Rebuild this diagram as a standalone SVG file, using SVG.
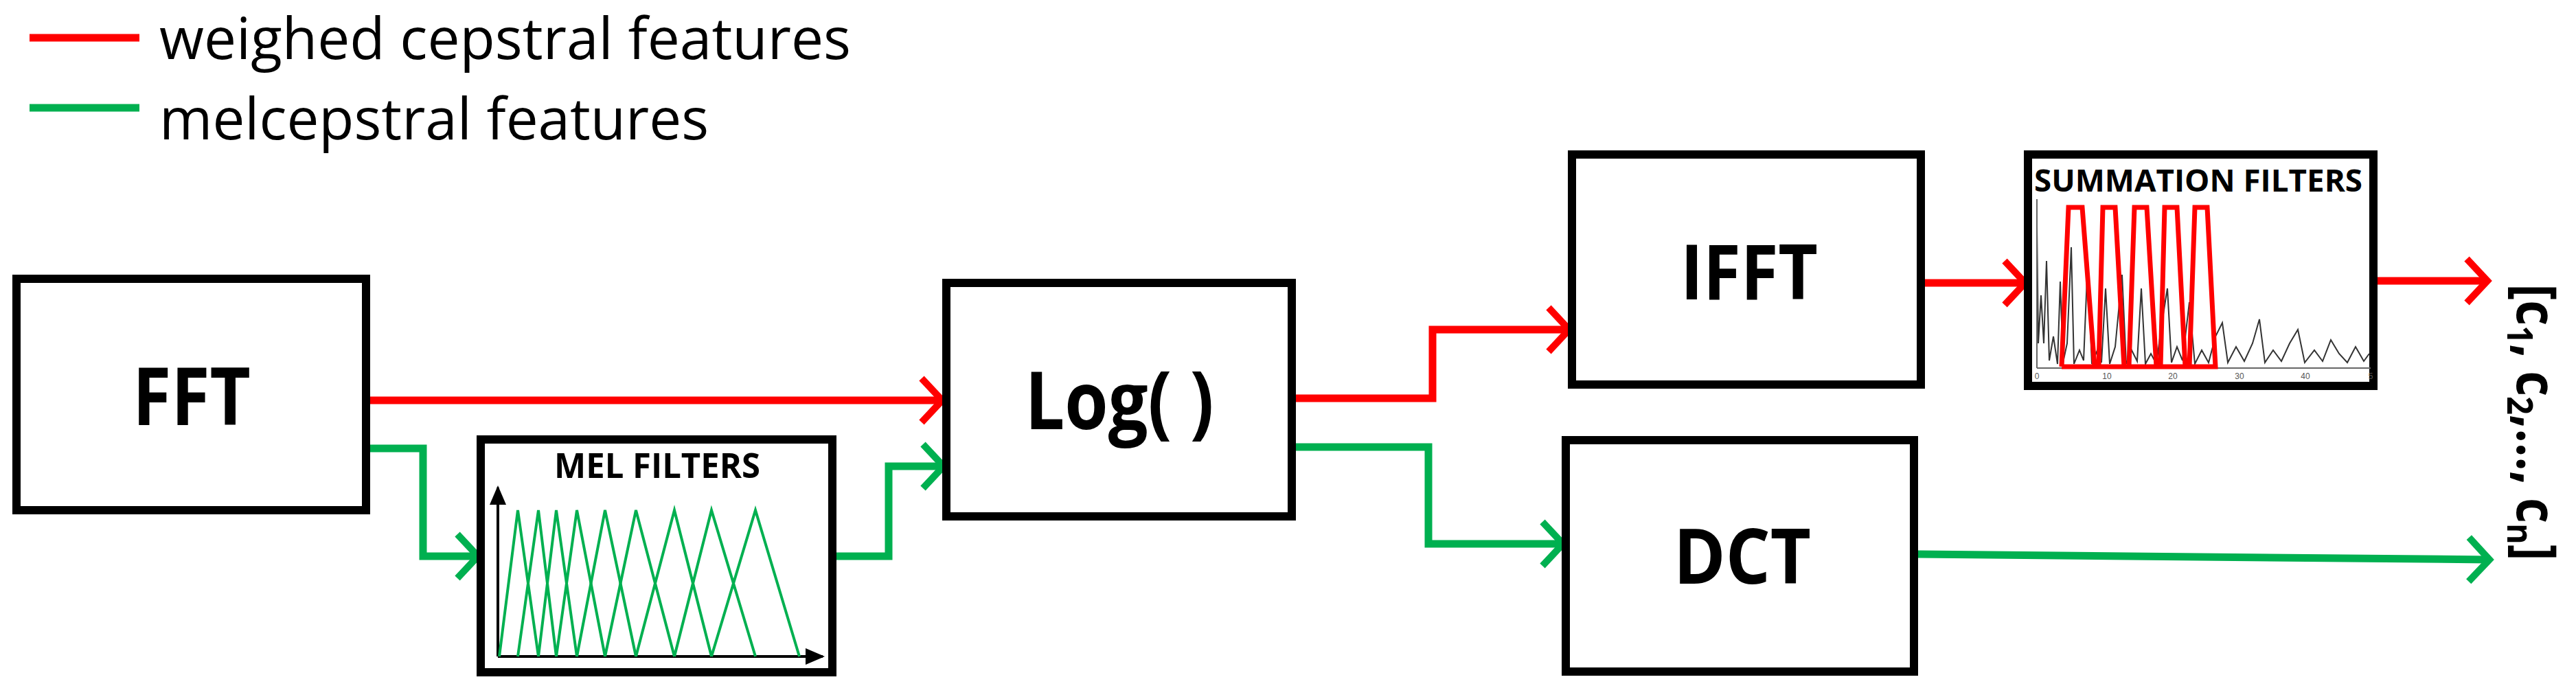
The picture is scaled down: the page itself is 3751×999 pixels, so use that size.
<svg xmlns="http://www.w3.org/2000/svg" width="3751" height="999" viewBox="0 0 3751 999">
<style>
.box{fill:#fff;stroke:#000;stroke-width:12}
.lbl{font-family:"Open Sans","Liberation Sans",sans-serif;font-weight:bold;text-anchor:middle;fill:#000}
.r{fill:none;stroke:#ff0000;stroke-width:11}
.g{fill:none;stroke:#00b050;stroke-width:11}
.leg{font-family:"Open Sans","Liberation Sans",sans-serif;font-size:84px;fill:#000}
</style>
<defs>
<marker id="ar" markerUnits="userSpaceOnUse" markerWidth="60" markerHeight="80" refX="48" refY="40" orient="auto"><path d="M18,8 L48,40 L18,72" fill="none" stroke="#ff0000" stroke-width="10"/></marker>
<marker id="ag" markerUnits="userSpaceOnUse" markerWidth="60" markerHeight="80" refX="48" refY="40" orient="auto"><path d="M18,8 L48,40 L18,72" fill="none" stroke="#00b050" stroke-width="10"/></marker>
<marker id="ak" markerUnits="userSpaceOnUse" markerWidth="30" markerHeight="30" refX="25" refY="15" orient="auto"><path d="M0,3 L28,15 L0,27 Z" fill="#000"/></marker>
</defs>
<g id="legend">
<line x1="43" y1="55" x2="203" y2="55" stroke="#ff0000" stroke-width="11"/>
<text class="leg" x="232" y="86" textLength="1007" lengthAdjust="spacingAndGlyphs">weighed cepstral features</text>
<line x1="43" y1="157" x2="203" y2="157" stroke="#00b050" stroke-width="11"/>
<text class="leg" x="232" y="203" textLength="800" lengthAdjust="spacingAndGlyphs">melcepstral features</text>
</g>
<g id="connectors">
<path class="r" d="M533,583 H1372" marker-end="url(#ar)"/>
<path class="g" d="M533,653 H616 V810 H696" marker-end="url(#ag)"/>
<path class="g" d="M1212,810 H1294 V679 H1374" marker-end="url(#ag)"/>
<path class="r" d="M1880,580 H2086 V480 H2285" marker-end="url(#ar)"/>
<path class="g" d="M1880,651 H2080 V792 H2276" marker-end="url(#ag)"/>
<path class="r" d="M2797,412 H2949" marker-end="url(#ar)"/>
<path class="r" d="M3456,409 H3622" marker-end="url(#ar)"/>
<path class="g" d="M2787,807 L3625,815" marker-end="url(#ag)"/>
</g>
<g id="fft"><rect class="box" x="24" y="406" width="509" height="337"/><text class="lbl" x="279" y="619" font-size="116" textLength="172" lengthAdjust="spacingAndGlyphs">FFT</text></g>
<g id="log"><rect class="box" x="1378" y="412" width="503" height="340"/><text class="lbl" x="1630" y="625" font-size="116" textLength="275" lengthAdjust="spacingAndGlyphs">Log( )</text></g>
<g id="ifft"><rect class="box" x="2289" y="225" width="508" height="335"/><text class="lbl" x="2547" y="436" font-size="112" textLength="200" lengthAdjust="spacingAndGlyphs">IFFT</text></g>
<g id="dct"><rect class="box" x="2280" y="641" width="507" height="337"/><text class="lbl" x="2537" y="850" font-size="112" textLength="200" lengthAdjust="spacingAndGlyphs">DCT</text></g>
<g id="mel">
<rect class="box" x="700" y="640" width="512" height="339"/>
<text class="lbl" x="957" y="696" font-size="50" textLength="300" lengthAdjust="spacingAndGlyphs">MEL FILTERS</text>
<line x1="725" y1="956" x2="725" y2="710" stroke="#000" stroke-width="4" marker-end="url(#ak)"/>
<line x1="725" y1="956" x2="1198" y2="956" stroke="#000" stroke-width="4" marker-end="url(#ak)"/>
<polyline fill="none" stroke="#00b050" stroke-width="4" points="727,956 754,743 784,956"/>
<polyline fill="none" stroke="#00b050" stroke-width="4" points="754,956 784,743 810,956"/>
<polyline fill="none" stroke="#00b050" stroke-width="4" points="784,956 810,743 840,956"/>
<polyline fill="none" stroke="#00b050" stroke-width="4" points="810,956 840,743 881,956"/>
<polyline fill="none" stroke="#00b050" stroke-width="4" points="840,956 881,743 926,956"/>
<polyline fill="none" stroke="#00b050" stroke-width="4" points="881,956 926,743 982,956"/>
<polyline fill="none" stroke="#00b050" stroke-width="4" points="926,956 982,743 1036,956"/>
<polyline fill="none" stroke="#00b050" stroke-width="4" points="982,956 1036,743 1100,956"/>
<polyline fill="none" stroke="#00b050" stroke-width="4" points="1036,956 1100,743 1164,956"/>
</g>
<g id="summation">
<rect class="box" x="2953" y="225" width="503" height="337"/>
<polyline fill="none" stroke="#333" stroke-width="2" points="2966,330 2968,500 2972,430 2976,500 2980,380 2984,525 2990,490 2996,530 3000,410 3004,528 3010,500 3016,360 3020,530 3028,510 3034,525 3040,380 3046,530 3054,510 3060,528 3066,420 3072,530 3080,505 3090,400 3096,530 3104,510 3112,526 3118,420 3124,530 3132,515 3140,530 3148,470 3156,420 3162,528 3170,505 3178,525 3188,440 3196,530 3206,510 3216,528 3226,490 3236,470 3244,528 3256,505 3268,526 3280,500 3290,465 3298,528 3310,510 3322,526 3334,500 3346,480 3356,528 3370,510 3382,526 3394,495 3406,515 3418,528 3430,505 3442,526 3450,515"/>
<line x1="2966" y1="536" x2="3452" y2="536" stroke="#666" stroke-width="2"/>
<line x1="2966" y1="290" x2="2966" y2="536" stroke="#666" stroke-width="2"/>
<g font-family="Liberation Sans,sans-serif" font-size="12" fill="#555" text-anchor="middle"><text x="2966" y="552">0</text><text x="3068" y="552">10</text><text x="3164" y="552">20</text><text x="3261" y="552">30</text><text x="3357" y="552">40</text><text x="3452" y="552">5</text></g>
<polyline fill="none" stroke="#ff0000" stroke-width="7" points="3002,534 3012,302 3032,302 3050,534 3056,534 3062,302 3080,302 3093,534 3100,534 3108,302 3126,302 3140,534 3146,534 3152,302 3170,302 3182,534 3188,534 3196,302 3214,302 3226,534 3002,534"/>
<text class="lbl" x="3201" y="279" font-size="44" textLength="478" lengthAdjust="spacingAndGlyphs">SUMMATION FILTERS</text>
</g>
<g id="output">
<text transform="translate(3665,615) rotate(90)" font-family="Open Sans,Liberation Sans,sans-serif" font-weight="bold" font-size="80" text-anchor="middle" textLength="403" lengthAdjust="spacingAndGlyphs">[c<tspan font-size="52" dy="14">1</tspan><tspan dy="-14">, c</tspan><tspan font-size="52" dy="14">2</tspan><tspan dy="-14">,…, c</tspan><tspan font-size="52" dy="14">n</tspan><tspan dy="-14">]</tspan></text>
</g>
</svg>
